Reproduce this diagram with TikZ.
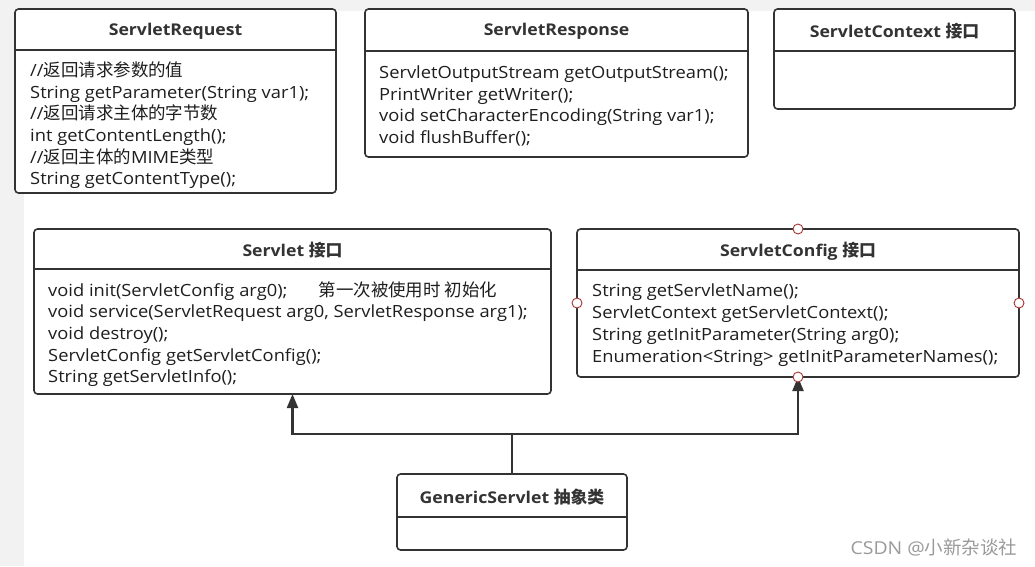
\documentclass[tikz,border=0pt]{standalone}
\usepackage{fontspec}
\setmainfont{Open Sans}[FakeStretch=1.09]
\newfontfamily\cjk{Noto Sans CJK SC}[Scale=1.04]
\usetikzlibrary{arrows.meta}
\definecolor{stroke}{HTML}{333333}
\definecolor{bodytext}{HTML}{1E1E1E}
\definecolor{bggray}{HTML}{F2F2F2}
\definecolor{portred}{HTML}{A83232}
\definecolor{wm}{HTML}{9A9A9A}
\begin{document}
\begin{tikzpicture}[x=1pt,y=-1pt,
  classbox/.style={draw=stroke, line width=1.6pt, rounded corners=3.5pt, fill=white, anchor=north west, inner sep=0pt, outer sep=0pt},
  divider/.style={draw=stroke, line width=1.6pt},
  hdr/.style={font=\fontsize{16.2}{20}\selectfont\bfseries, text=stroke, inner sep=0pt},
  body/.style={font=\fontsize{16.8}{21.7}\selectfont, text=bodytext, align=left, anchor=north west, inner sep=0pt},
  conn/.style={draw=stroke, line width=2.2pt},
  arr/.style={conn, -{Triangle[length=14pt,width=11pt]}},
  port/.style={circle, draw=portred, fill=white, line width=0.9pt, minimum size=10pt, inner sep=0pt}
]
\useasboundingbox (0,0) rectangle (1035,566);
\fill[white] (0,0) rectangle (1035,566);
\fill[bggray] (0,0) rectangle (24,566);
\fill[bggray] (0,0) rectangle (1035,11);

% ServletRequest
\node[classbox, minimum width=321pt, minimum height=184pt] (req) at (15,9) {};
\draw[divider] (req.west |- 0,50) -- (req.east |- 0,50);
\node[hdr] (reqh) at (175.5,31.5) {ServletRequest};
\node[body] (reqb) at (30,61.5) {//{\cjk 返回请求参数的值}\\String getParameter(String var1);\\//{\cjk 返回请求主体的字节数}\\int getContentLength();\\//{\cjk 返回主体的}MIME{\cjk 类型}\\String getContentType();};

% ServletResponse
\node[classbox, minimum width=383pt, minimum height=148pt] (resp) at (365,9) {};
\draw[divider] (resp.west |- 0,51) -- (resp.east |- 0,51);
\node[hdr] (resph) at (556.5,31.5) {ServletResponse};
\node[body] (respb) at (379,65.5) {ServletOutputStream getOutputStream();\\PrintWriter getWriter();\\void setCharacterEncoding(String var1);\\void flushBuffer();};

% ServletContext
\node[classbox, minimum width=241pt, minimum height=100pt] (ctx) at (774,9) {};
\draw[divider] (ctx.west |- 0,51) -- (ctx.east |- 0,51);
\node[hdr] (ctxh) at (894.5,31.5) {ServletContext {\cjk\bfseries 接口}};

% Servlet
\node[classbox, minimum width=517pt, minimum height=165pt] (srv) at (34,229) {};
\draw[divider] (srv.west |- 0,269) -- (srv.east |- 0,269);
\node[hdr] (srvh) at (292.5,250) {Servlet {\cjk\bfseries 接口}};
\node[body] (srvb) at (48,281.2) {void init(ServletConfig arg0);\hspace{1.85em}{\cjk 第一次被使用时 初始化}\\void service(ServletRequest arg0, ServletResponse arg1);\\void destroy();\\ServletConfig getServletConfig();\\String getServletInfo();};

% ServletConfig
\node[classbox, minimum width=442pt, minimum height=148pt] (cfg) at (577,229) {};
\draw[divider] (cfg.west |- 0,270) -- (cfg.east |- 0,270);
\node[hdr] (cfgh) at (798,251) {ServletConfig {\cjk\bfseries 接口}};
\node[body] (cfgb) at (592,284) {String getServletName();\\ServletContext getServletContext();\\String getInitParameter(String arg0);\\Enumeration<String> getInitParameterNames();};

% GenericServlet
\node[classbox, minimum width=230pt, minimum height=76pt] (gs) at (397,474) {};
\draw[divider] (gs.west |- 0,517) -- (gs.east |- 0,517);
\node[hdr] (gsh) at (512,497) {GenericServlet {\cjk\bfseries 抽象类}};

% connectors
\coordinate (j) at (512,434);
\draw[conn] (gs.north) -- (j);
\draw[arr] (j) -| (srv.south);
\draw[arr] (j) -| (cfg.south);

% ports on ServletConfig
\node[port] (p1) at (cfg.north) {};
\node[port] (p2) at (cfg.south) {};
\node[port] (p3) at (cfg.west) {};
\node[port] (p4) at (cfg.east) {};

% watermark
\node[font=\fontsize{17.8}{20}\selectfont, text=wm, inner sep=0pt] (wmk) at (934,547) {CSDN @{\cjk 小新杂谈社}};
\end{tikzpicture}
\end{document}
